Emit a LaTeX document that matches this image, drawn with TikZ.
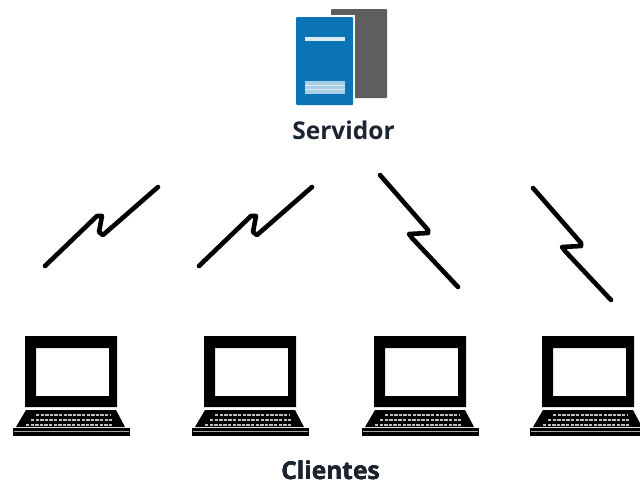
\documentclass[tikz,border=0pt]{standalone}
\usepackage{fontspec}
\usepackage{xcolor}
\usepackage{tikz}
\setmainfont{Open Sans}
\definecolor{srvblue}{HTML}{0A74B4}
\definecolor{srvgray}{HTML}{5E5E5E}
\definecolor{srvlight}{HTML}{A9CFE6}
\definecolor{txtdark}{HTML}{1C2430}
\tikzset{
	bolt/.style={line width=4.6pt,line cap=round,line join=round},
	keyrow/.style={gray!50,line width=2pt,dash pattern=on 3.4pt off 1.2pt},
	label/.style={font=\bfseries\fontsize{24.5}{28}\selectfont,text=txtdark,inner sep=0pt}
}
% one laptop, drawn at its own origin
\newcommand{\laptop}{
	\fill[even odd rule] (25,336) rectangle (117,407) (36,348) rectangle (109,396);
	\fill (26,410) -- (116,410) -- (125,427) -- (16,427) -- cycle;
	\fill (13,428) rectangle (130,436);
	\draw[keyrow] (36,415) -- (110,415);
	\draw[keyrow] (31,420) -- (112,420);
	\draw[keyrow] (26,424.5) -- (113,424.5);
	\fill[gray!70] (14,430.5) rectangle (129,432);
}
\begin{document}
\begin{tikzpicture}[x=1pt,y=-1pt]
	\useasboundingbox (0,0) rectangle (640,485);
	\clip (0,0) rectangle (640,485);
	% servidor
	\fill[srvgray,rounded corners=1pt] (331,9) rectangle (387,98);
	\fill[white] (329,15) rectangle (355,107);
	\fill[srvblue,rounded corners=1pt] (296,17) rectangle (353,105);
	\fill[white!85!srvblue] (305,37) rectangle (345,40.5);
	\fill[srvlight] (305,81) rectangle (345,93.5);
	\foreach \y in {84.5,88.5}
		\fill[white!85!srvblue] (305,\y) rectangle (345,\y+1.5);
	\node[label] (servidor) at (343.5,130) {Servidor};
	% enlaces
	\foreach \x in {0,154}
		\draw[bolt,xshift=\x] (45,266) -- (97,216) -- (102,216) -- (99,232) -- (103,235) -- (158,187);
	\foreach \x/\y in {0/0,153/13}
		\draw[bolt,shift={(\x,\y)}] (380,175) -- (428,230) -- (428,233) -- (409,234) -- (412,238) -- (458,287);
	% clientes
	\foreach \x in {0,179,349,517}
		\begin{scope}[xshift=\x]
			\laptop
		\end{scope}
	\node[label] (clientes) at (330.5,470) {Clientes};
\end{tikzpicture}
\end{document}
